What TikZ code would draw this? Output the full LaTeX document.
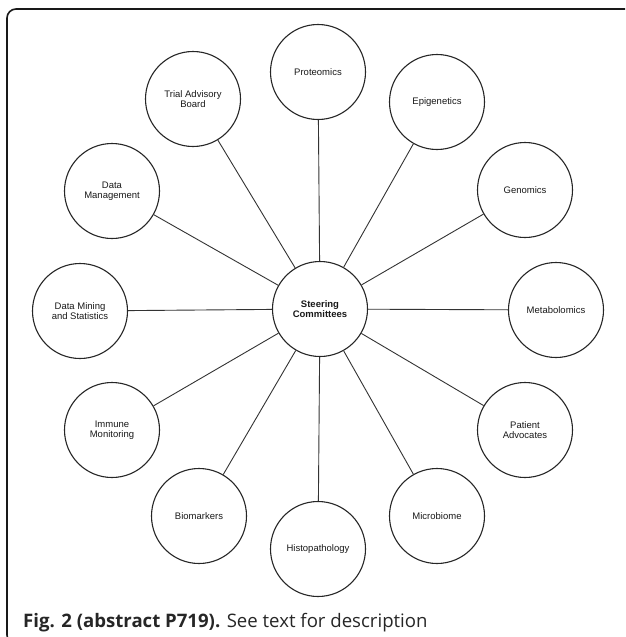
\documentclass[tikz,border=0pt]{standalone}
\usepackage{fontspec}
\setmainfont{Liberation Sans}
\newfontfamily\capfont{Open Sans}
\begin{document}
\begin{tikzpicture}[x=1pt,y=-1pt,
  topic/.style={circle,draw=black!85,line width=1.1pt,minimum size=95pt,inner sep=0pt,align=center,
    font=\fontsize{9.5}{10.5}\selectfont,text=black!90},
  hub/.style={topic,font=\fontsize{9.5}{10.5}\selectfont\bfseries},
  link/.style={draw=black!80,line width=0.9pt}]
\useasboundingbox (0,0) rectangle (625,637);
\begin{scope}
\clip (0,0) rectangle (625,637);
\draw[black!90,line width=1.6pt,rounded corners=9pt] (7,9) rectangle (634,644);
\end{scope}
\node[hub] (sc) at (320,309) {Steering\\Committees};
\node[topic] (pro) at (318,72) {Proteomics};
\node[topic] (epi) at (437,102) {Epigenetics};
\node[topic] (gen) at (525,190) {Genomics};
\node[topic] (met) at (556,310) {Metabolomics};
\node[topic] (pat) at (525,430) {Patient\\Advocates};
\node[topic] (mic) at (437,516) {Microbiome};
\node[topic] (his) at (318,549) {Histopathology};
\node[topic] (bio) at (199,516) {Biomarkers};
\node[topic] (imm) at (112,430) {Immune\\Monitoring};
\node[topic] (dms) at (80,311) {Data Mining\\and Statistics};
\node[topic] (dma) at (112,191) {Data\\Management};
\node[topic] (tab) at (193,99) {Trial Advisory\\Board};
\foreach \n in {pro,epi,gen,met,pat,mic,his,bio,imm,dms,dma,tab}
  \draw[link] (sc) -- (\n);
\node[anchor=base west,inner sep=0pt,font=\capfont\fontsize{18.6}{22}\selectfont,text=black!85] (cap) at (23,627)
  {\textbf{Fig. 2 (abstract P719).} See text for description};
\end{tikzpicture}
\end{document}
